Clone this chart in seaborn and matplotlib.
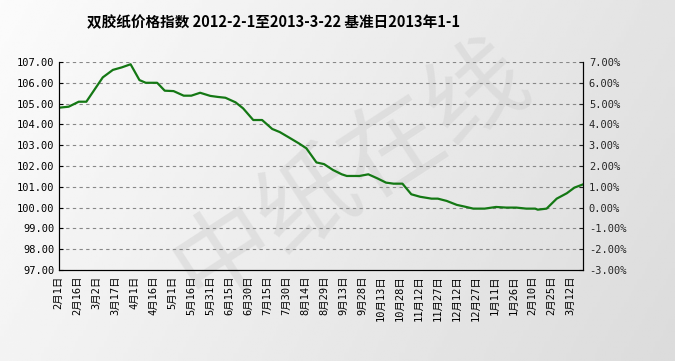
import numpy as np
import pandas as pd
import matplotlib
matplotlib.use("Agg")
import matplotlib.pyplot as plt
import seaborn as sns

# ---- data ----
title = "双胶纸价格指数 2012-2-1至2013-3-22 基准日2013年1-1"
days = [0, 8, 16, 22, 35, 43, 50, 57, 64, 69, 78, 84, 91, 99, 105, 112, 120, 126,
        132, 140, 146, 154, 161, 169, 175, 182, 190, 196, 204, 210, 217, 224, 228,
        238, 245, 252, 259, 265, 272, 279, 286, 295, 300, 307, 315, 321, 328, 337,
        346, 354, 362, 370, 377, 379, 386, 394, 402, 408, 415]
index_values = [104.80, 104.85, 105.09, 105.09, 106.26, 106.62, 106.74, 106.89, 106.13,
                106.00, 106.00, 105.62, 105.60, 105.38, 105.38, 105.52, 105.37, 105.32,
                105.28, 105.06, 104.77, 104.21, 104.21, 103.78, 103.63, 103.38, 103.09,
                102.85, 102.17, 102.09, 101.81, 101.60, 101.52, 101.52, 101.60, 101.41,
                101.20, 101.15, 101.15, 100.64, 100.52, 100.43, 100.43, 100.32, 100.13,
                100.05, 99.95, 99.95, 100.03, 100.00, 100.00, 99.95, 99.95, 99.90,
                99.95, 100.43, 100.69, 100.96, 101.12]
tick_days = list(range(0, 406, 15))
tick_labels = ["2月1日", "2月16日", "3月2日", "3月17日", "4月1日", "4月16日", "5月1日",
               "5月16日", "5月31日", "6月15日", "6月30日", "7月15日", "7月30日", "8月14日",
               "8月29日", "9月13日", "9月28日", "10月13日", "10月28日", "11月12日",
               "11月27日", "12月12日", "12月27日", "1月11日", "1月26日", "2月10日",
               "2月25日", "3月12日"]
left_ticks = [97, 98, 99, 100, 101, 102, 103, 104, 105, 106, 107]
right_ticks = [-3, -2, -1, 0, 1, 2, 3, 4, 5, 6, 7]
watermark = "中纸在线"

sns.set_style("white")
plt.rcParams['font.family'] = ['Noto Sans CJK SC', 'DejaVu Sans']
tick_family = ['DejaVu Sans Mono', 'Noto Sans CJK SC']

fig = plt.figure(figsize=(6.75, 3.61), dpi=100)

# background gradient
bg = fig.add_axes([0, 0, 1, 1], zorder=-10)
grad = np.linspace(0.985, 0.89, 256)[None, :] * np.ones((64, 1))
vgrad = np.linspace(0.0, 0.03, 64)[:, None]
bg.imshow(np.clip(grad - vgrad, 0, 1), cmap="gray", vmin=0, vmax=1, aspect="auto",
          extent=[0, 1, 0, 1])
bg.set_axis_off()
bg.text(0.52, 0.52, watermark, fontsize=72, color="#cfcfcf", alpha=0.45,
        rotation=33, ha="center", va="center", transform=bg.transAxes)

ax = fig.add_axes([0.0867, 0.2521, 0.7774, 0.5762])
ax.patch.set_alpha(0)
df = pd.DataFrame({"day": days, "value": index_values})
sns.lineplot(data=df, x="day", y="value", ax=ax, color="#147814", linewidth=1.6)

ax.set_xlim(0, 415)
ax.set_ylim(97, 107)
ax.set_yticks(left_ticks)
ax.set_yticklabels([f"{v:.2f}" for v in left_ticks], fontsize=7.5, family=tick_family)
ax.set_xticks(tick_days)
ax.set_xticklabels(tick_labels, rotation=90, fontsize=7.5, family=tick_family)
ax.set_xlabel("")
ax.set_ylabel("")
for y in left_ticks[1:]:
    ax.axhline(y, color="#888888", linestyle=(0, (3, 3)), linewidth=0.8, zorder=0)
ax.tick_params(axis="both", direction="in", length=3, width=0.8, color="black",
               pad=3, labelcolor="black")
ax.tick_params(axis="x", pad=4)
for s in ["left", "bottom", "right"]:
    ax.spines[s].set_visible(True)
    ax.spines[s].set_color("black")
    ax.spines[s].set_linewidth(0.8)
ax.spines["top"].set_visible(False)

ax2 = ax.twinx()
ax2.set_ylim(-3, 7)
ax2.set_yticks(right_ticks)
ax2.set_yticklabels([f"{v:.2f}%" for v in right_ticks], fontsize=7.5, family=tick_family)
ax2.tick_params(axis="y", direction="in", length=3, width=0.8, pad=4)
ax2.spines["top"].set_visible(False)
for s in ["left", "bottom", "right"]:
    ax2.spines[s].set_color("black")
    ax2.spines[s].set_linewidth(0.8)

fig.text(87 / 675, 1 - 22 / 361, title, fontsize=10.5, fontweight="bold",
         ha="left", va="center", color="black")

fig.savefig("out.png", dpi=100)
